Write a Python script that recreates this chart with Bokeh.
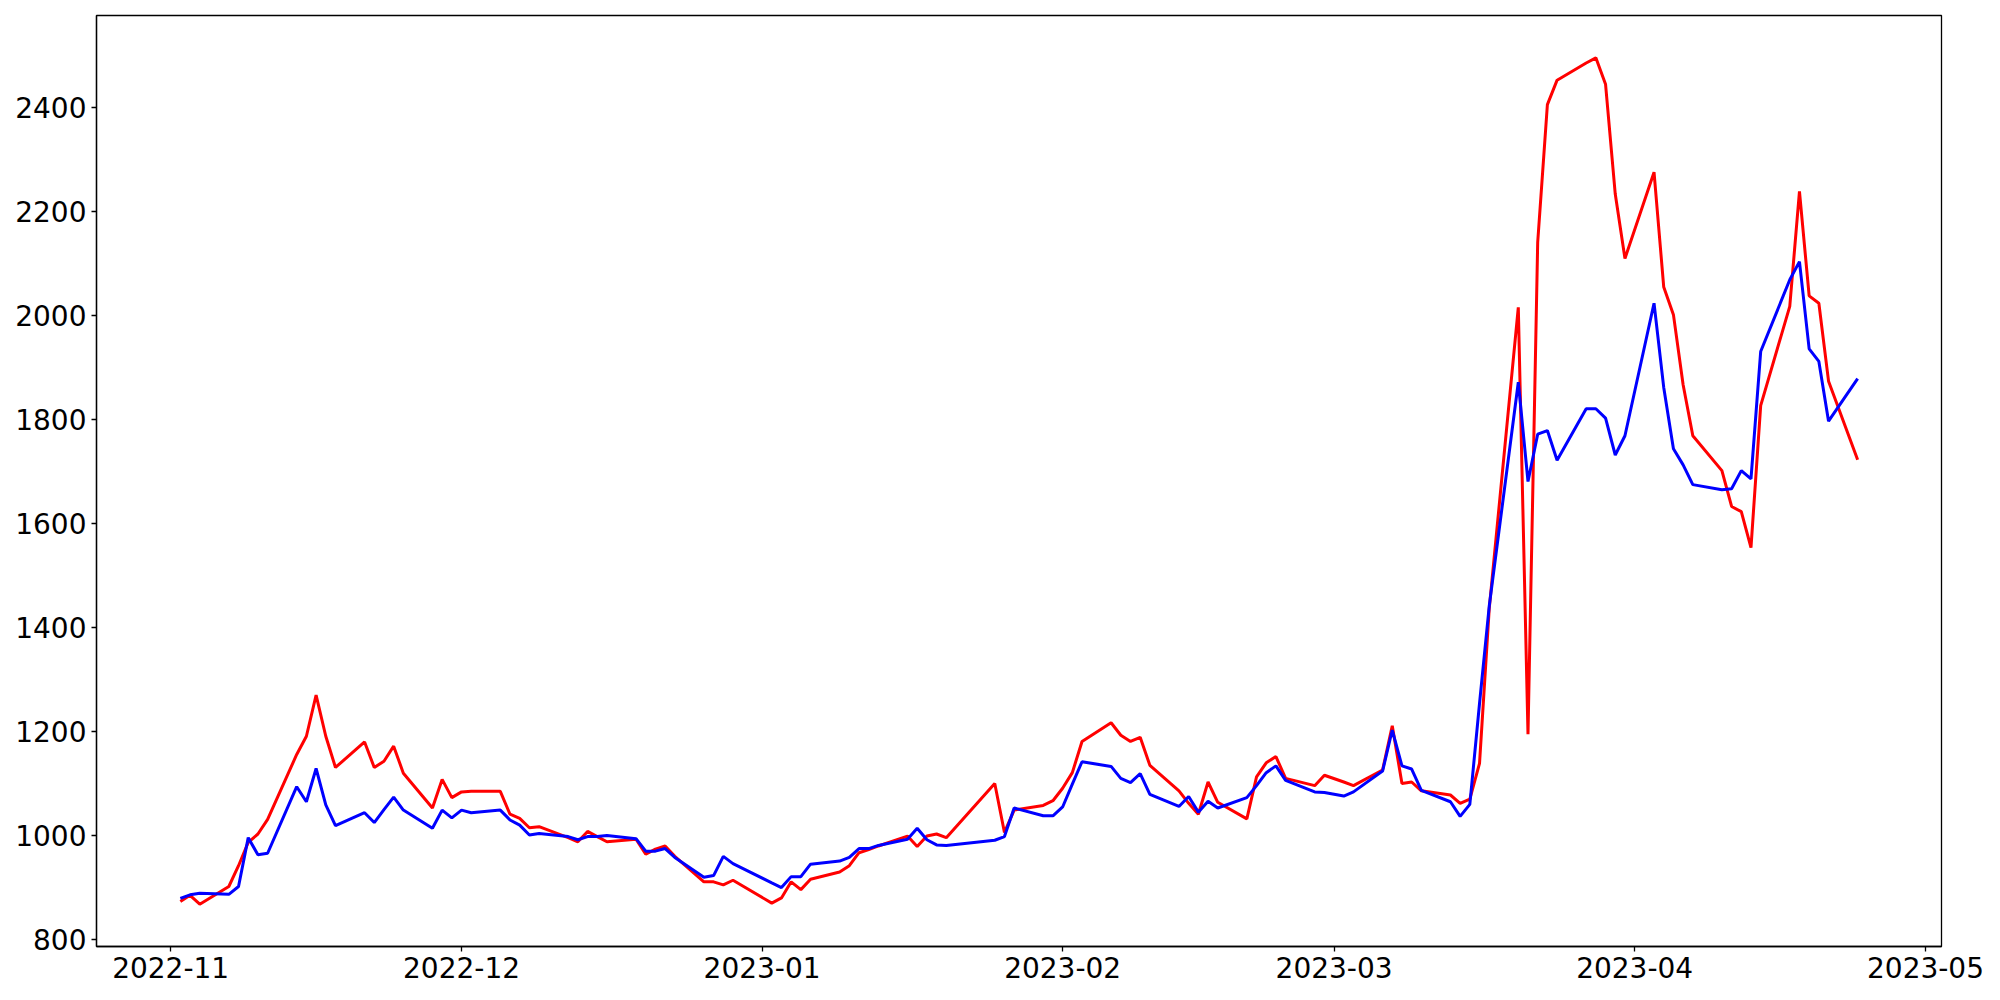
import pandas as pd
from bokeh.plotting import figure
from bokeh.models import FixedTicker, DatetimeTickFormatter, Range1d, ColumnDataSource
from bokeh.embed import file_html
from bokeh.resources import INLINE

# Trading days (KRX calendar) shown on the chart
start_date = "2022-11-02"
end_date = "2023-04-24"
holidays = ["2022-12-30", "2023-01-23", "2023-01-24", "2023-03-01"]
dates = pd.bdate_range(start_date, end_date, freq="C", holidays=holidays)

red_values = [
    # Nov
    872, 884, 867, 901, 941, 986, 1002, 1030, 1155, 1190, 1269, 1190, 1130, 1179, 1130, 1142, 1171, 1119, 1052, 1107, 1072,
    # Dec
    1083, 1084, 1084, 1040, 1032, 1014, 1016, 995, 987, 1007, 997, 987, 992, 963, 973, 979, 959, 910, 910, 904, 913,
    # Jan
    869, 879, 910, 895, 915, 929, 941, 966, 972, 979, 998, 978, 998, 1002, 995, 1099, 1005, 1048, 1057, 1066,
    # Feb
    1090, 1120, 1180, 1216, 1192, 1180, 1188, 1134, 1085, 1061, 1040, 1102, 1063, 1031, 1112, 1139, 1151, 1109, 1095, 1115,
    # Mar
    1102, 1095, 1125, 1210, 1099, 1102, 1085, 1077, 1061, 1069, 1138, 1435, 2015, 1194, 2140, 2405, 2452, 2485, 2495, 2444, 2233, 2109,
    # Apr
    2275, 2054, 2001, 1866, 1768, 1701, 1632, 1622, 1553, 1826, 2017, 2238, 2037, 2023, 1873, 1722,
]

blue_values = [
    # Nov
    878, 885, 888, 886, 901, 995, 962, 965, 1093, 1064, 1128, 1058, 1018, 1043, 1024, 1049, 1073, 1048, 1013, 1048, 1033,
    # Dec
    1048, 1043, 1048, 1029, 1019, 1000, 1003, 997, 991, 997, 997, 999, 993, 969, 969, 974, 957, 919, 922, 959, 945,
    # Jan
    908, 899, 920, 920, 944, 950, 957, 974, 974, 980, 992, 1013, 991, 981, 980, 990, 997, 1052, 1037, 1037,
    # Feb
    1054, 1098, 1141, 1132, 1109, 1101, 1118, 1078, 1055, 1074, 1044, 1065, 1052, 1072, 1095, 1120, 1133, 1105, 1083, 1082,
    # Mar
    1075, 1083, 1123, 1202, 1133, 1127, 1086, 1064, 1036, 1059, 1253, 1440, 1871, 1680, 1771, 1778, 1721, 1820, 1820, 1802, 1731, 1768,
    # Apr
    2023, 1861, 1743, 1712, 1674, 1664, 1666, 1701, 1685, 1930, 2068, 2103, 1935, 1911, 1796, 1878,
]

x_tick_labels = ["2022-11", "2022-12", "2023-01", "2023-02", "2023-03", "2023-04", "2023-05"]
y_ticks = [800, 1000, 1200, 1400, 1600, 1800, 2000, 2200, 2400]

assert len(dates) == len(red_values) == len(blue_values), (len(dates), len(red_values), len(blue_values))

source = ColumnDataSource(dict(date=dates, red=red_values, blue=blue_values))

# matplotlib-like 5% margins
x0, x1 = dates[0], dates[-1]
xpad = (x1 - x0) * 0.05
all_vals = red_values + blue_values
ymin, ymax = min(all_vals), max(all_vals)
ypad = (ymax - ymin) * 0.05

p = figure(
    width=1984, height=992,
    x_axis_type="datetime",
    x_range=Range1d(x0 - xpad, x1 + xpad),
    y_range=Range1d(ymin - ypad, ymax + ypad),
    output_backend="svg", toolbar_location=None,
    min_border_left=96, min_border_right=43, min_border_top=15, min_border_bottom=46,
    background_fill_color="white", border_fill_color="white",
)

p.line("date", "red", source=source, line_color="#ff0000", line_width=3)
p.line("date", "blue", source=source, line_color="#0000ff", line_width=3)

p.grid.visible = False
p.outline_line_color = "black"
p.outline_line_width = 1.3
p.outline_line_alpha = 1.0

month_ticks = [pd.Timestamp(m + "-01").value / 1e6 for m in x_tick_labels]
p.xaxis.ticker = FixedTicker(ticks=month_ticks)
fmt = "%Y-%m"
p.xaxis.formatter = DatetimeTickFormatter(
    milliseconds=fmt, seconds=fmt, minsec=fmt, minutes=fmt, hourmin=fmt,
    hours=fmt, days=fmt, months=fmt, years=fmt,
)
p.yaxis.ticker = FixedTicker(ticks=y_ticks)

for ax in (p.xaxis[0], p.yaxis[0]):
    ax.major_label_text_font = "DejaVu Sans"
    ax.major_label_text_font_size = "28px"
    ax.major_label_text_color = "black"
    ax.axis_line_color = "black"
    ax.axis_line_width = 1.3
    ax.major_tick_line_color = "black"
    ax.major_tick_line_width = 1.3
    ax.major_tick_out = 5
    ax.major_tick_in = 0
    ax.minor_tick_out = 0
    ax.minor_tick_in = 0
    ax.major_label_standoff = 5

open("out.html", "w").write(file_html(p, INLINE))
